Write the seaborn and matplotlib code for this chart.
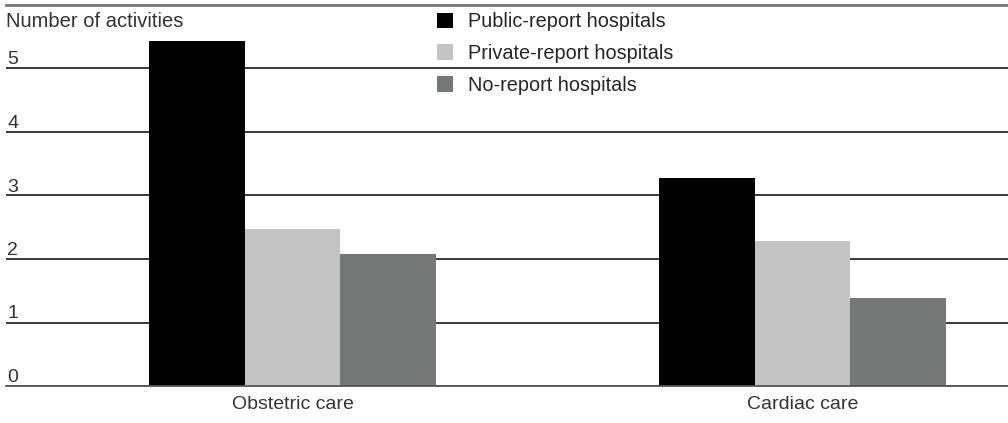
import pandas as pd
import matplotlib.pyplot as plt
import seaborn as sns

# values
categories = ['Obstetric care', 'Cardiac care']
groups = ['Public-report hospitals', 'Private-report hospitals', 'No-report hospitals']
public_vals = [5.44, 3.27]
private_vals = [2.47, 2.28]
noreport_vals = [2.08, 1.38]
yticks = [0, 1, 2, 3, 4, 5]
colors = ['#000000', '#c3c3c3', '#767878']

df = pd.DataFrame({
    'care': categories * 3,
    'group': [groups[0]] * 2 + [groups[1]] * 2 + [groups[2]] * 2,
    'value': public_vals + private_vals + noreport_vals,
})

sns.set_theme(style='white')
plt.rcParams['font.family'] = ['Liberation Sans', 'DejaVu Sans']

fig = plt.figure(figsize=(10.08, 4.23), dpi=100)
ax = fig.add_axes([6 / 1008, 1 - 386 / 423, 1 - 6 / 1008, 381 / 423])

sns.barplot(data=df, x='care', y='value', hue='group', palette=colors,
            width=0.5625, saturation=1, linewidth=0, ax=ax)

ax.set_xlim(-0.562, 1.403)
ax.set_ylim(0, 6)
ax.set_yticks(yticks)
ax.set_yticklabels([str(t) for t in yticks])
ax.yaxis.grid(True, color='#2a2a2a', linewidth=1.3)
ax.set_axisbelow(True)
ax.set_xlabel('')
ax.set_ylabel('')

for sp in ['left', 'right']:
    ax.spines[sp].set_visible(False)
ax.spines['bottom'].set_color('#555555')
ax.spines['bottom'].set_linewidth(1.3)
ax.spines['top'].set_color('#777777')
ax.spines['top'].set_linewidth(2)

ax.tick_params(axis='y', length=0, pad=-1, labelsize=14, labelcolor='#333333')
for lab in ax.get_yticklabels():
    lab.set_ha('left')
    lab.set_va('bottom')
ax.tick_params(axis='x', length=0, pad=7, labelsize=14, labelcolor='#333333')

ax.text(0.0, 0.982, 'Number of activities', transform=ax.transAxes, ha='left', va='top',
        fontsize=14.5, color='#333333')

handles, labels = ax.get_legend_handles_labels()
ax.legend(handles, labels, loc='upper left', bbox_to_anchor=(437 / 1008, 1 - 12 / 423),
          bbox_transform=fig.transFigure, frameon=False, handlelength=0.8, handleheight=0.8,
          handletextpad=0.75, labelspacing=0.65, prop={'size': 14.3},
          borderpad=0, borderaxespad=0)

plt.savefig('out.png', dpi=100)
